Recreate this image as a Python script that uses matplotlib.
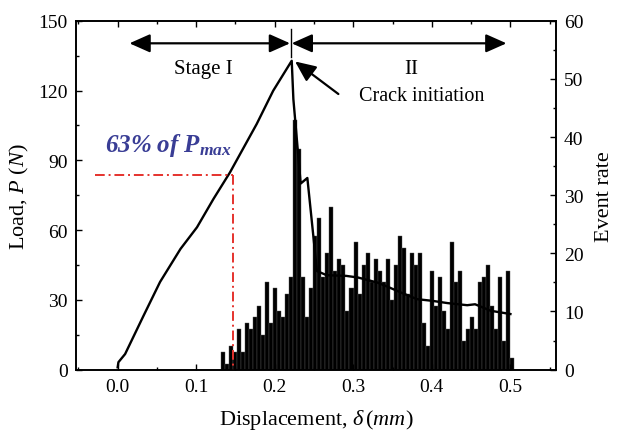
import numpy as np
import matplotlib
matplotlib.use("Agg")
import matplotlib.pyplot as plt
from matplotlib.ticker import MultipleLocator

plt.rcParams['font.family'] = ['Liberation Serif', 'DejaVu Serif']
plt.rcParams['mathtext.fontset'] = 'custom'
plt.rcParams['mathtext.rm'] = 'Liberation Serif'
plt.rcParams['mathtext.it'] = 'Liberation Serif:italic'
plt.rcParams['mathtext.bf'] = 'Liberation Serif:italic:bold'

# load-displacement curve
disp = [0.0, 0.001, 0.0095, 0.033, 0.054, 0.080, 0.101, 0.122, 0.143, 0.177,
        0.198, 0.2216, 0.2237, 0.233, 0.2415, 0.2537, 0.266, 0.291, 0.306,
        0.331, 0.346, 0.361, 0.381, 0.400, 0.420, 0.445, 0.455, 0.475, 0.500]
load = [1.0, 3.2, 6.7, 23.2, 37.7, 51.9, 61.2, 73.4, 84.8, 105.6,
        119.9, 132.8, 116.3, 80.0, 82.4, 42.4, 40.6, 40.3, 39.6,
        37.4, 35.3, 33.1, 30.3, 29.6, 28.6, 27.7, 28.1, 25.3, 23.9]

# event rate histogram
bin_start = 0.1345
bin_w = 0.0051
event_rate = [3, 1, 4, 3, 7, 3, 8, 7, 9, 11, 6, 15, 8, 14, 10, 9, 13, 16,
              43, 38, 16, 9, 14, 23, 26, 16, 20, 28, 17, 19, 18, 10, 14, 22,
              13, 18, 20, 15, 19, 17, 15, 19, 12, 18, 23, 21, 13, 20, 18, 20,
              8, 4, 17, 11, 16, 10, 7, 22, 15, 17, 5, 7, 9, 7, 15, 16, 18,
              11, 7, 16, 5, 17, 2]
bin_centers = bin_start + bin_w * np.arange(len(event_rate))

p_max = max(load)
p63 = 0.63 * p_max
d63 = 0.147
crack_d = 0.2205

fig = plt.figure(figsize=(6.18, 4.35), dpi=100)
ax = fig.add_axes([0.123, 0.148, 0.776, 0.802])
ax2 = ax.twinx()

ax2.bar(bin_centers, event_rate, width=bin_w, color='black', linewidth=0.3,
        edgecolor='#555555')
ax2.set_ylim(0, 60)
ax2.yaxis.set_major_locator(MultipleLocator(10))
ax2.yaxis.set_minor_locator(MultipleLocator(5))
ax2.set_ylabel('Event rate', fontsize=16, labelpad=8)

ax.set_zorder(ax2.get_zorder() + 1)
ax.patch.set_visible(False)

ax.plot(disp, load, color='black', lw=1.7)
ax.plot([-0.029, d63], [p63, p63], color='#e5322d', lw=1.4, ls=(0, (5, 2, 1, 2)))
ax.plot([d63, d63], [p63, 0], color='#e5322d', lw=1.4, ls=(0, (5, 2, 1, 2)))

ax.set_xlim(-0.053, 0.5575)
ax.set_ylim(0, 150)
ax.xaxis.set_major_locator(MultipleLocator(0.1))
ax.xaxis.set_minor_locator(MultipleLocator(0.05))
ax.yaxis.set_major_locator(MultipleLocator(30))
ax.yaxis.set_minor_locator(MultipleLocator(15))
ax.xaxis.set_major_formatter(plt.FuncFormatter(lambda v, p: '%.1f' % v))

for a in (ax, ax2):
    a.tick_params(which='both', direction='in', labelsize=14, pad=6)
    a.tick_params(which='major', length=4.5, width=1)
    a.tick_params(which='minor', length=2.5, width=1)
    for s in a.spines.values():
        s.set_linewidth(1.2)
ax.tick_params(which='both', top=True, right=False)
ax2.tick_params(which='both', right=True)

ax.set_xlabel(r'Displacement, $\delta\,(mm)$', fontsize=16, labelpad=9)
ax.set_ylabel(r'Load, $P$ $(N)$', fontsize=16, labelpad=5)

# stage arrows
arr = dict(arrowstyle='<|-|>,head_length=0.9,head_width=0.4', color='black',
           lw=1.6, shrinkA=0, shrinkB=0, mutation_scale=14)
ax.annotate('', xy=(0.015, 140.3), xytext=(crack_d - 0.001, 140.3), arrowprops=arr)
ax.annotate('', xy=(crack_d + 0.001, 140.3), xytext=(0.495, 140.3), arrowprops=arr)
ax.plot([crack_d, crack_d], [134.4, 146.4], color='black', lw=1)
ax.text(0.109, 129.6, 'Stage I', fontsize=15, ha='center', va='center')
ax.text(0.374, 129.6, 'II', fontsize=15, ha='center', va='center')
ax.text(0.387, 117.7, 'Crack initiation', fontsize=14.5, ha='center', va='center')
ax.annotate('', xy=(0.2258, 132.5), xytext=(0.281, 118.5),
            arrowprops=dict(arrowstyle='-|>,head_length=0.9,head_width=0.4',
                            color='black', lw=1.6, shrinkA=0, shrinkB=0,
                            mutation_scale=14))
ax.text(-0.016, 94, r'$\mathbf{63\%\ of\ P_{max}}$', fontsize=18,
        color='#393d95', ha='left', va='baseline')

fig.savefig('out.png', dpi=100)
